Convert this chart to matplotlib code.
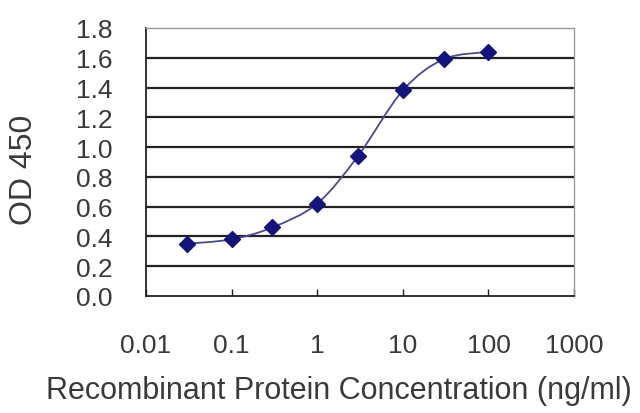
import numpy as np
import matplotlib.pyplot as plt
from matplotlib.path import Path
from matplotlib.patches import PathPatch

# concentration (ng/ml) vs OD 450
conc = [0.03, 0.1, 0.3, 1, 3, 10, 30, 100]
od450 = [0.35, 0.38, 0.46, 0.62, 0.94, 1.38, 1.59, 1.64]

x_ticks = [0.01, 0.1, 1, 10, 100, 1000]
x_ticklabels = ['0.01', '0.1', '1', '10', '100', '1000']
y_ticks = [0.0, 0.2, 0.4, 0.6, 0.8, 1.0, 1.2, 1.4, 1.6, 1.8]

plt.rcParams['font.family'] = ['Liberation Sans', 'DejaVu Sans']
TEXT = '#3a3a3a'
NAVY = '#14147a'

fig = plt.figure(figsize=(6.4, 4.14), dpi=100)
ax = fig.add_axes([0.228, 0.283, 0.669, 0.647])
ax.set_xscale('log')
ax.set_xlim(0.01, 1000)
ax.set_ylim(0, 1.8)

# horizontal grid
for yv in y_ticks[1:]:
    ax.axhline(yv, color='#9a9a9a' if yv == 1.8 else '#222222',
               lw=1.6 if yv < 1.8 else 1.2, zorder=1)

# smoothed line (Excel style bezier, computed in log-x space)
lx = np.log10(conc)
yy = np.array(od450)
verts = [(lx[0], yy[0])]
codes = [Path.MOVETO]
n = len(lx)
for i in range(n - 1):
    p0 = np.array([lx[max(i - 1, 0)], yy[max(i - 1, 0)]])
    p1 = np.array([lx[i], yy[i]])
    p2 = np.array([lx[i + 1], yy[i + 1]])
    p3 = np.array([lx[min(i + 2, n - 1)], yy[min(i + 2, n - 1)]])
    c1 = p1 + (p2 - p0) / 6
    c2 = p2 - (p3 - p1) / 6
    verts += [tuple(c1), tuple(c2), tuple(p2)]
    codes += [Path.CURVE4] * 3
verts = [(10 ** vx, vy) for vx, vy in verts]
ax.add_patch(PathPatch(Path(verts, codes), fill=False, edgecolor='#4a4a8a',
                       lw=1.3, zorder=2))

ax.plot(conc, od450, linestyle='none', marker='D', markersize=8.5,
        color=NAVY, zorder=3)

ax.set_xticks(x_ticks)
ax.set_xticklabels(x_ticklabels)
ax.xaxis.set_minor_locator(plt.NullLocator())
ax.set_yticks(y_ticks)
ax.set_yticklabels([f'{v:.1f}' for v in y_ticks])

ax.tick_params(axis='x', direction='in', length=5, width=1, color='#222222',
               pad=27, labelsize=19, labelcolor=TEXT)
ax.tick_params(axis='y', length=0, pad=24, labelsize=19, labelcolor=TEXT)

for side in ['left', 'bottom']:
    ax.spines[side].set_color('#222222')
    ax.spines[side].set_linewidth(1.3)
for side in ['top', 'right']:
    ax.spines[side].set_color('#9a9a9a')
    ax.spines[side].set_linewidth(1.0)

fig.text(0.53, 0.055, 'Recombinant Protein Concentration (ng/ml)',
         ha='center', va='center', fontsize=22, color=TEXT)
fig.text(0.0375, 0.589, 'OD 450', ha='center', va='center', rotation=90,
         fontsize=23, color=TEXT)

fig.savefig('out.png', dpi=100)
